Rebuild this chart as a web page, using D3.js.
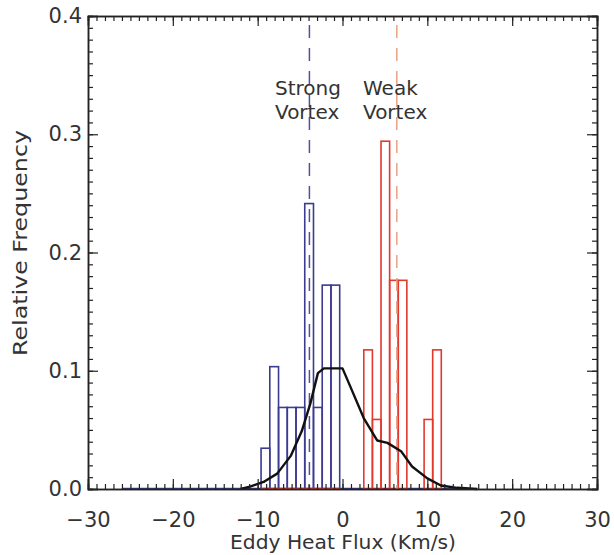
<!DOCTYPE html>
<html>
<head>
<meta charset="utf-8">
<script src="https://cdn.jsdelivr.net/npm/d3@7"></script>
<style>
  body { margin: 0; background: #fff; }
  text { font-family: "DejaVu Sans", sans-serif; fill: #333; }
</style>
</head>
<body>
<svg id="chart" width="614" height="555"></svg>
<script>
/*global d3*/
"use strict";

// histogram bins (left edges, Km/s) and counts
var strongEdges = [ -9.6, -8.57, -7.54, -6.51, -5.48, -4.45, -3.42, -2.39, -1.36 ];
var strongCounts = [ 1, 3, 2, 2, 2, 7, 2, 5, 5 ];
var strongWidth = 1.03;
var weakEdges = [ 2.51, 3.53, 4.54, 5.56, 6.57, 7.59, 8.6, 9.62, 10.63 ];
var weakCounts = [ 2, 1, 5, 3, 3, 0, 0, 1, 2 ];
var weakWidth = 1.015;

// means (dashed lines)
var strongMean = -3.9;
var weakMean = 6.4;

// distribution of all winters (black line)
var curveX = [ -12, -10.9, -9.3, -7.7, -6.1, -4.8, -3.8, -2.9, -2.2, -1.0, 0.0, 0.9, 2.5, 4.1, 5.3, 6.9, 8.2, 10.0, 11.6, 13.5, 15.9 ];
var curveY = [ 0, 0.002, 0.006, 0.013, 0.028, 0.049, 0.072, 0.098, 0.102, 0.102, 0.102, 0.087, 0.060, 0.041, 0.039, 0.032, 0.019, 0.009, 0.003, 0.001, 0 ];

var xTicks = [ -30, -20, -10, 0, 10, 20, 30 ];
var yTicks = [ 0, 0.1, 0.2, 0.3, 0.4 ];

var blue = "#3b3b92";
var red = "#e2382e";

var svg = d3.select( "#chart" );
var x = d3.scaleLinear().domain( [ -30, 30 ] ).range( [ 88, 597 ] );
var y = d3.scaleLinear().domain( [ 0, 0.4 ] ).range( [ 489, 16 ] );

function range( a, b, step ) {
  var temp = [];
  for ( var i = 0; a + i * step <= b + 1e-9; i += 1 ) {
    temp.push( a + i * step );
  }
  return temp;
}

function minus( v ) {
  return String( v ).replace( "-", "\u2212" );
}

function bars( edges, counts, width, color ) {
  var total = d3.sum( counts );
  var data = edges.map( function( e, i ) {
    return { x0: e, x1: e + width, f: counts[i] / total };
  } ).filter( function( d ) { return d.f > 0; } );
  svg.append( "g" )
     .selectAll( "rect" )
     .data( data )
     .enter()
     .append( "rect" )
     .attr( "x", function( d ) { return x( d.x0 ); } )
     .attr( "y", function( d ) { return y( d.f ); } )
     .attr( "width", function( d ) { return x( d.x1 ) - x( d.x0 ); } )
     .attr( "height", function( d ) { return y( 0 ) - y( d.f ); } )
     .attr( "fill", "none" )
     .attr( "stroke", color )
     .attr( "stroke-width", 1.6 );
}

function baseline( a, b, color ) {
  svg.append( "line" )
     .attr( "x1", x( a ) ).attr( "x2", x( b ) )
     .attr( "y1", y( 0 ) - 0.5 ).attr( "y2", y( 0 ) - 0.5 )
     .attr( "stroke", color )
     .attr( "stroke-width", 1.6 );
}

function meanLine( v, color ) {
  svg.append( "line" )
     .attr( "x1", x( v ) ).attr( "x2", x( v ) )
     .attr( "y1", y( 0.4 ) ).attr( "y2", y( 0 ) )
     .attr( "stroke", color )
     .attr( "stroke-width", 1.5 )
     .attr( "stroke-dasharray", "13,10" )
     .attr( "stroke-dashoffset", 14 );
}

// histograms
baseline( -26, 14.5, blue );
bars( weakEdges, weakCounts, weakWidth, red );
bars( strongEdges, strongCounts, strongWidth, blue );
baseline( strongEdges[0], strongEdges[strongEdges.length - 1] + strongWidth, red );

meanLine( strongMean, "#50509e" );
meanLine( weakMean, "#e6a285" );

svg.append( "path" )
   .datum( d3.zip( curveX, curveY ) )
   .attr( "fill", "none" )
   .attr( "stroke", "#111" )
   .attr( "stroke-width", 2.4 )
   .attr( "stroke-linejoin", "round" )
   .attr( "d", d3.line()
     .x( function( d ) { return x( d[0] ); } )
     .y( function( d ) { return y( d[1] ); } ) );

// axes: ticks on all four sides, pointing inwards
function axis( gen, pos, major, minor, labels ) {
  var g = svg.append( "g" ).attr( "transform", pos );
  g.call( gen.scale()
    ? gen.tickValues( minor ).tickSize( -5 ).tickFormat( "" )
    : gen );
  var g2 = svg.append( "g" ).attr( "transform", pos );
  g2.call( gen.tickValues( major ).tickSize( -10 )
    .tickFormat( labels ? labels : "" ) );
  [ g, g2 ].forEach( function( s ) {
    s.select( ".domain" ).attr( "stroke", "#222" ).attr( "stroke-width", 1.5 );
    s.selectAll( ".tick line" ).attr( "stroke", "#222" ).attr( "stroke-width", 1.2 );
  } );
  return g2;
}

var xMinor = range( -30, 30, 1 );
var yMinor = range( 0, 0.4, 0.01 );

var bottom = axis( d3.axisBottom( x ).tickPadding( 23 ), "translate(0," + y( 0 ) + ")", xTicks, xMinor,
  function( v ) { return minus( v ); } );
axis( d3.axisTop( x ), "translate(0," + y( 0.4 ) + ")", xTicks, xMinor, null );
var left = axis( d3.axisLeft( y ).tickPadding( 6 ), "translate(" + x( -30 ) + ",0)", yTicks, yMinor,
  function( v ) { return d3.format( ".1f" )( v ); } );
axis( d3.axisRight( y ), "translate(" + x( 30 ) + ",0)", yTicks, yMinor, null );

bottom.selectAll( ".tick text" ).attr( "font-size", 21 ).attr( "font-family", "DejaVu Sans" ).attr( "fill", "#333" );
left.selectAll( ".tick text" ).attr( "font-size", 21 ).attr( "font-family", "DejaVu Sans" ).attr( "fill", "#333" );

// axis titles
svg.append( "text" )
   .attr( "x", 343 ).attr( "y", 549 )
   .attr( "text-anchor", "middle" )
   .attr( "font-size", 20 )
   .attr( "textLength", 226 )
   .attr( "lengthAdjust", "spacingAndGlyphs" )
   .text( "Eddy Heat Flux (Km/s)" );

svg.append( "text" )
   .attr( "transform", "translate(27,243) rotate(-90)" )
   .attr( "text-anchor", "middle" )
   .attr( "font-size", 20 )
   .attr( "textLength", 226 )
   .attr( "lengthAdjust", "spacingAndGlyphs" )
   .text( "Relative Frequency" );

// group labels
[ [ 275, "Strong", "Vortex" ], [ 363, "Weak", "Vortex" ] ].forEach( function( l ) {
  svg.append( "text" ).attr( "x", l[0] ).attr( "y", 95 ).attr( "font-size", 20 ).text( l[1] );
  svg.append( "text" ).attr( "x", l[0] ).attr( "y", 119 ).attr( "font-size", 20 ).text( l[2] );
} );
</script>
</body>
</html>
